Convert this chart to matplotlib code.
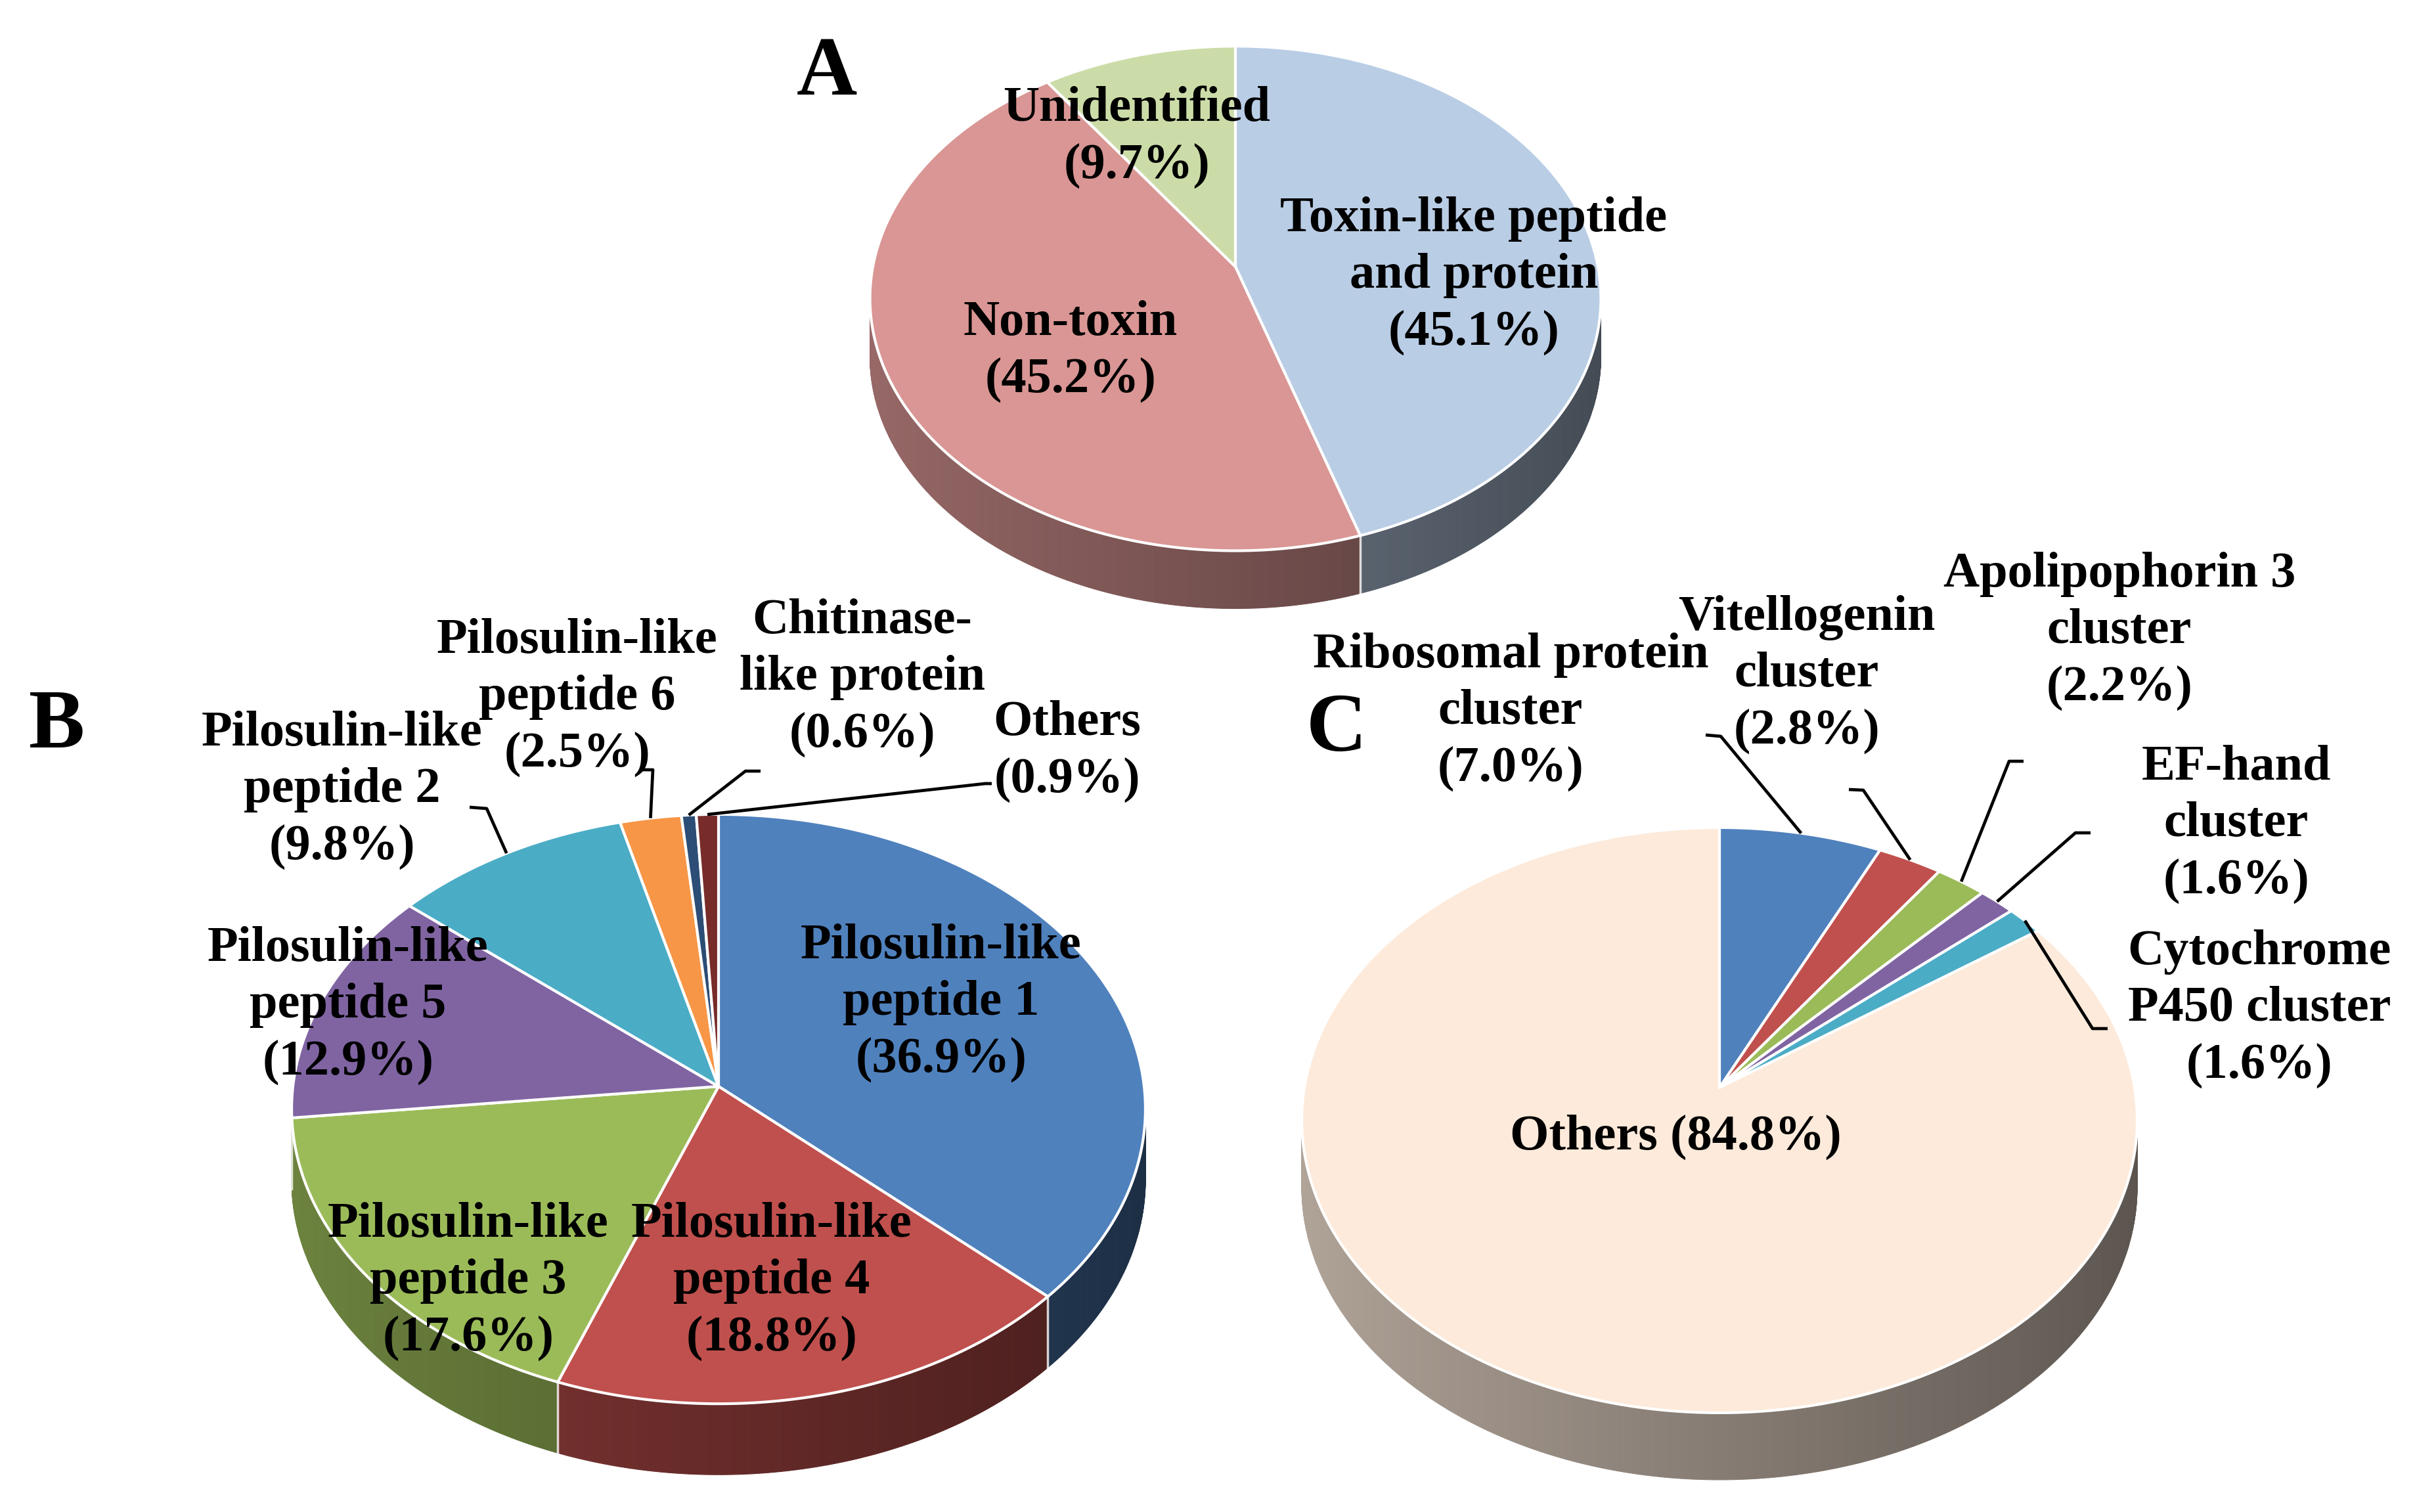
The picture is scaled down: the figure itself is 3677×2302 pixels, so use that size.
import numpy as np
import matplotlib.pyplot as plt
from matplotlib.patches import Polygon
from matplotlib.collections import PolyCollection

# donnees des trois camemberts
valeurs_A = [45.1, 45.2, 9.7]
noms_A = ['Toxin-like peptide\nand protein\n(45.1%)', 'Non-toxin\n(45.2%)', 'Unidentified\n(9.7%)']
couleurs_A = ['#B9CDE5', '#D99694', '#CCDCA8']

valeurs_B = [36.9, 18.8, 17.6, 12.9, 9.8, 2.5, 0.6, 0.9]
noms_B = ['Pilosulin-like\npeptide 1\n(36.9%)', 'Pilosulin-like\npeptide 4\n(18.8%)',
          'Pilosulin-like\npeptide 3\n(17.6%)', 'Pilosulin-like\npeptide 5\n(12.9%)',
          'Pilosulin-like\npeptide 2\n(9.8%)', 'Pilosulin-like\npeptide 6\n(2.5%)',
          'Chitinase-\nlike protein\n(0.6%)', 'Others\n(0.9%)']
couleurs_B = ['#4F81BD', '#C0504D', '#9BBB59', '#8064A2', '#4BACC6', '#F79646', '#2C4D75', '#772C2A']

valeurs_C = [7.0, 2.8, 2.2, 1.6, 1.6, 84.8]
noms_C = ['Ribosomal protein\ncluster\n(7.0%)', 'Vitellogenin\ncluster\n(2.8%)',
          'Apolipophorin 3\ncluster\n(2.2%)', 'EF-hand\ncluster\n(1.6%)',
          'Cytochrome\nP450 cluster\n(1.6%)', 'Others (84.8%)']
couleurs_C = ['#4F81BD', '#C0504D', '#9BBB59', '#8064A2', '#4BACC6', '#FDEADA']

W, H = 3677, 2302
fig = plt.figure(figsize=(W/100, H/100), dpi=100)
ax = fig.add_axes([0, 0, 1, 1])
ax.set_xlim(0, W)
ax.set_ylim(H, 0)
ax.axis('off')

police = dict(family='Liberation Serif', weight='bold', color='black')


def camembert3d(cx, cy, A, B, k, prof, valeurs, couleurs):
    # projection en perspective d'un disque incline
    def proj(t):
        X = np.cos(t)
        Y = np.sin(t)
        w = 1 + k*Y
        return cx + A*X/w, cy - B*Y/w

    total = float(sum(valeurs))
    cum = np.concatenate([[0], np.cumsum(valeurs)])/total
    angles = np.radians(90 - 360*cum)

    # les cotes : petits quadrilateres, du fond vers l'avant
    quads = []
    for i in range(len(valeurs)):
        n = max(4, int(abs(angles[i+1]-angles[i])/np.radians(0.4)))
        ts = np.linspace(angles[i], angles[i+1], n+1)
        xs, ys = proj(ts)
        for j in range(n):
            tm = 0.5*(ts[j]+ts[j+1])
            f = 0.53 - 0.17*np.cos(tm)
            c = np.array(plt.matplotlib.colors.to_rgb(couleurs[i]))*f
            p = [(xs[j], ys[j]), (xs[j+1], ys[j+1]), (xs[j+1], ys[j+1]+prof), (xs[j], ys[j]+prof)]
            quads.append((np.sin(tm), p, c))
    quads.sort(key=lambda q: -q[0])
    pc = PolyCollection([q[1] for q in quads], facecolors=[q[2] for q in quads],
                        edgecolors=[q[2] for q in quads], linewidths=0.8, zorder=1)
    ax.add_collection(pc)

    # traits blancs verticaux entre les parts sur le cote
    for a in angles[:-1]:
        if np.sin(a) < -k:
            x0, y0 = proj(a)
            ax.plot([x0, x0], [y0, y0+prof], color='white', lw=2.5, alpha=0.8, zorder=2)

    # dessus
    for i in range(len(valeurs)):
        n = max(4, int(abs(angles[i+1]-angles[i])/np.radians(0.4)))
        ts = np.linspace(angles[i], angles[i+1], n+1)
        xs, ys = proj(ts)
        pts = [(cx, cy)] + list(zip(xs, ys))
        ax.add_patch(Polygon(pts, closed=True, facecolor=couleurs[i], edgecolor='white',
                             lw=3, joinstyle='round', zorder=3))
    return proj, angles


def legende(proj, angles, i, x0, y0, x1, y1):
    tm = 0.5*(angles[i]+angles[i+1])
    xe, ye = proj(tm)
    ax.plot([x0, x1, xe], [y0, y1, ye], color='black', lw=3.4, zorder=5, solid_capstyle='butt')


taille = 55
esp = 1.32

# A
projA, angA = camembert3d(1881, 406, 552, 378, 0.126, 88, valeurs_A, couleurs_A)
ax.text(1259, 113, 'A', fontsize=92, ha='center', va='center', zorder=6, **police)
posA = [(2244, 420), (1630, 535), (1731, 209)]
for nom, (x, y) in zip(noms_A, posA):
    ax.text(x, y, nom, fontsize=taille, ha='center', va='center', linespacing=esp, zorder=6, **police)

# B
projB, angB = camembert3d(1094, 1654, 648, 446, 0.077, 108, valeurs_B, couleurs_B)
ax.text(87, 1107, 'B', fontsize=92, ha='center', va='center', zorder=6, **police)
posB = [(1433, 1527), (1175, 1951), (713, 1951), (530, 1531),
        (521, 1203), (879, 1062), (1313, 1032), (1625, 1144)]
for nom, (x, y) in zip(noms_B, posB):
    ax.text(x, y, nom, fontsize=taille, ha='center', va='center', linespacing=esp, zorder=6, **police)
legende(projB, angB, 4, 715, 1229, 741, 1231)
legende(projB, angB, 5, 975, 1172, 994, 1172)
legende(projB, angB, 6, 1158, 1174, 1135, 1174)
legende(projB, angB, 7, 1510, 1193, 1500, 1193)

# C
projC, angC = camembert3d(2618, 1656, 632, 440, 0.111, 102, valeurs_C, couleurs_C)
ax.text(2035, 1112, 'C', fontsize=92, ha='center', va='center', zorder=6, **police)
posC = [(2300, 1084), (2751, 1027), (3227, 961), (3405, 1255), (3440, 1536), (2551, 1731)]
for nom, (x, y) in zip(noms_C, posC):
    ax.text(x, y, nom, fontsize=taille, ha='center', va='center', linespacing=esp, zorder=6, **police)
legende(projC, angC, 0, 2597, 1119, 2620, 1121)
legende(projC, angC, 1, 2815, 1202, 2837, 1203)
legende(projC, angC, 2, 3081, 1159, 3059, 1159)
legende(projC, angC, 3, 3183, 1268, 3160, 1268)
legende(projC, angC, 4, 3209, 1566, 3186, 1566)

fig.savefig('out.png', dpi=100, facecolor='white')
